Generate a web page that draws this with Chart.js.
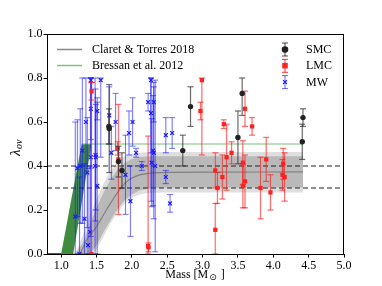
<!DOCTYPE html>
<html>
<head>
<meta charset="utf-8">
<script src="https://cdn.jsdelivr.net/npm/chart.js@4.4.0/dist/chart.umd.min.js"></script>
<style>
  html, body { margin: 0; padding: 0; background: #fff; }
  #wrap { width: 382px; height: 286px; }
</style>
</head>
<body>
<div id="wrap"><canvas id="chart" width="382" height="286"></canvas></div>
<script>
// axis ticks
const xTicks = [1.0, 1.5, 2.0, 2.5, 3.0, 3.5, 4.0, 4.5, 5.0];
const yTicks = [0.0, 0.2, 0.4, 0.6, 0.8, 1.0];

// error bars stay inside the model grid range of lambda_ov
const lamMin = 0.0;
const lamMax = 0.8;

// SMC
const smcMass = [1.675, 1.68, 1.81, 1.86, 2.72, 2.83, 3.50, 3.56, 4.42, 4.41];
const smcLam  = [0.58, 0.57, 0.42, 0.38, 0.47, 0.67, 0.53, 0.73, 0.62, 0.51];
const smcErr  = [0.08, 0.20, 0.07, 0.08, 0.07, 0.09, 0.12, 0.10, 0.04, 0.08];

// LMC
const lmcMass = [1.43, 1.43, 1.80, 1.81, 2.23, 2.235, 2.99, 2.97, 3.18, 3.18, 3.21, 3.28, 3.30, 3.34, 3.41,
                 3.57, 3.57, 3.60, 3.60, 3.70, 3.82, 3.90, 3.96, 4.14, 4.13, 4.16];
const lmcLam  = [0.74, 0.00, 0.48, 0.43, 0.036, 0.03, 0.79, 0.65, 0.38, 0.11, 0.30, 0.35, 0.59, 0.44, 0.46,
                 0.415, 0.31, 0.33, 0.66, 0.58, 0.30, 0.43, 0.28, 0.41, 0.36, 0.35];
const lmcErr  = [0.04, 0.78, 0.03, 0.25, 0.50, 0.02, 0.34, 0.04, 0.08, 0.12, 0.07, 0.10, 0.02, 0.15, 0.05,
                 0.10, 0.10, 0.12, 0.08, 0.04, 0.14, 0.10, 0.08, 0.07, 0.07, 0.11];

// MW
const mwMass = [1.20, 1.23, 1.26, 1.27, 1.30, 1.33, 1.35, 1.37, 1.38, 1.41, 1.42, 1.42, 1.42, 1.48, 1.485,
                1.49, 1.51, 1.51, 1.56, 1.68, 1.71, 1.77, 1.91, 1.96, 1.98, 2.01, 2.06, 2.14, 2.23, 2.27,
                2.27, 2.28, 2.30, 2.31, 2.31, 2.33, 2.48, 2.48, 2.54, 2.57];
const mwLam  = [0.17, 0.39, 0.00, 0.40, 0.47, 0.16, 0.60, 0.37, 0.04, 0.10, 0.79, 0.66, 0.44, 0.40, 0.45,
                0.44, 0.65, 0.31, 0.79, 0.63, 0.46, 0.60, 0.36, 0.55, 0.24, 0.60, 0.46, 0.40, 0.69, 0.79,
                0.64, 0.415, 0.47, 0.69, 0.46, 0.40, 0.35, 0.54, 0.23, 0.55];
const mwErr  = [0.43, 0.22, 0.35, 0.26, 0.33, 0.25, 0.20, 0.25, 0.35, 0.30, 0.40, 0.14, 0.36, 0.40, 0.30,
                0.24, 0.04, 0.40, 0.35, 0.13, 0.12, 0.13, 0.18, 0.10, 0.16, 0.11, 0.02, 0.02, 0.04, 0.55,
                0.18, 0.20, 0.25, 0.09, 0.30, 0.39, 0.03, 0.08, 0.04, 0.07];

// Claret & Torres 2018 relation and its bands
const ctMass = [1.27, 1.36, 1.50, 1.64, 1.79, 1.93, 2.07, 2.26, 2.50, 3.00, 4.42];
const ctLam  = [0.00, 0.064, 0.124, 0.20, 0.276, 0.33, 0.355, 0.367, 0.371, 0.372, 0.373];
const bandMass = [1.2, 1.3, 1.4, 1.5, 1.6, 1.7, 1.8, 1.9, 2.0, 2.1, 2.2, 2.3, 2.5, 3.0, 4.42];
const outerHi  = [0, 0.08, 0.17, 0.25, 0.32, 0.38, 0.42, 0.445, 0.455, 0.46, 0.462, 0.463, 0.464, 0.464, 0.464];
const outerLo  = [0, 0, 0, 0.02, 0.08, 0.14, 0.19, 0.23, 0.255, 0.27, 0.276, 0.278, 0.279, 0.279, 0.279];
const innerHi  = [0, 0.045, 0.13, 0.21, 0.28, 0.34, 0.385, 0.415, 0.432, 0.44, 0.443, 0.444, 0.444, 0.444, 0.444];
const innerLo  = [0, 0, 0, 0.04, 0.10, 0.155, 0.205, 0.245, 0.27, 0.287, 0.296, 0.30, 0.302, 0.302, 0.302];

// Bressan et al. 2012
const brMass = [1.29, 4.42];
const brLam  = [0.5, 0.5];
const brBaseMass = [0.8, 1.0];
const brShapeMass = [1.0, 1.29, 1.43, 1.17];
const brShapeLam  = [0.0, 0.5, 0.5, 0.0];

// reference lines
const refLines = [0.4, 0.3];

const serif = "'Liberation Serif', 'DejaVu Serif', serif";

function pts(xs, ys) {
    return xs.map((x, i) => ({ x: x, y: ys[i] }));
}

function band(xs, hi, lo) {
    let p = pts(xs, hi);
    return p.concat(pts(xs, lo).reverse());
}

function clipArea(chart) {
    let a = chart.chartArea, ctx = chart.ctx;
    ctx.beginPath();
    ctx.rect(a.left, a.top, a.right - a.left, a.bottom - a.top);
    ctx.clip();
}

// error bars, drawn just before the markers of each dataset
const errorBars = {
    id: "errorBars",
    beforeDatasetDraw(chart, args) {
        let ds = chart.data.datasets[args.index];
        if (!ds.errors) return;
        let ctx = chart.ctx, xs = chart.scales.x, ys = chart.scales.y;
        ctx.save();
        clipArea(chart);
        [[ds.errLight, 1.8], [ds.errColor, 0.9]].forEach(([col, lw]) => {
            ctx.strokeStyle = col;
            ctx.lineWidth = lw;
            ds.data.forEach((p, i) => {
                let e = ds.errors[i];
                let px = xs.getPixelForValue(p.x);
                let top = ys.getPixelForValue(Math.min(p.y + e, lamMax));
                let bot = ys.getPixelForValue(Math.max(p.y - e, lamMin));
                ctx.beginPath();
                ctx.moveTo(px, top); ctx.lineTo(px, bot);
                ctx.moveTo(px - 3, top); ctx.lineTo(px + 3, top);
                ctx.moveTo(px - 3, bot); ctx.lineTo(px + 3, bot);
                ctx.stroke();
            });
        });
        ctx.restore();
    },
    // Bressan band, painted over the grey bands
    afterDatasetDraw(chart, args) {
        if (args.index !== 1) return;
        let ctx = chart.ctx, xs = chart.scales.x, ys = chart.scales.y;
        ctx.save();
        clipArea(chart);
        ctx.beginPath();
        brShapeMass.forEach((m, i) => {
            let px = xs.getPixelForValue(m), py = ys.getPixelForValue(brShapeLam[i]);
            if (i === 0) ctx.moveTo(px, py); else ctx.lineTo(px, py);
        });
        ctx.closePath();
        ctx.fillStyle = "#3f8c3f";
        ctx.fill();
        ctx.restore();
    }
};

// frame, legends and axis titles
const decorations = {
    id: "decorations",
    afterDraw(chart) {
        let ctx = chart.ctx, a = chart.chartArea;
        ctx.save();
        ctx.strokeStyle = "#000";
        ctx.lineWidth = 1;
        ctx.strokeRect(a.left + 0.5, a.top + 0.5, a.right - a.left - 1, a.bottom - a.top);

        ctx.font = "12px " + serif;
        ctx.fillStyle = "#000";
        ctx.textBaseline = "middle";

        // left legend
        ctx.lineWidth = 1.5;
        ctx.strokeStyle = "#8a8a8a";
        ctx.beginPath(); ctx.moveTo(57, 49.5); ctx.lineTo(82, 49.5); ctx.stroke();
        ctx.strokeStyle = "#7fc07f";
        ctx.beginPath(); ctx.moveTo(57, 65.5); ctx.lineTo(82, 65.5); ctx.stroke();
        ctx.fillText("Claret & Torres 2018", 92, 50);
        ctx.fillText("Bressan et al. 2012", 92, 66);

        // right legend
        let items = [
            ["SMC", "rgba(40,40,40,0.85)", "circle", "#222"],
            ["LMC", "rgba(255,0,0,0.8)", "rect", "#ff2020"],
            ["MW", "rgba(0,0,255,0.6)", "crossRot", "#1a1aff"]
        ];
        items.forEach((it, k) => {
            let cy = 49.5 + k * 16.3, cx = 285;
            ctx.strokeStyle = it[1];
            ctx.lineWidth = 1;
            ctx.beginPath();
            ctx.moveTo(cx, cy - 6.5); ctx.lineTo(cx, cy + 6.5);
            ctx.moveTo(cx - 3, cy - 6.5); ctx.lineTo(cx + 3, cy - 6.5);
            ctx.moveTo(cx - 3, cy + 6.5); ctx.lineTo(cx + 3, cy + 6.5);
            ctx.stroke();
            ctx.fillStyle = it[3];
            ctx.strokeStyle = it[3];
            ctx.lineWidth = 1.2;
            Chart.helpers.drawPoint(ctx, { pointStyle: it[2], radius: it[2] === "rect" ? 3 : 2.7, borderWidth: 1.2 }, cx, cy);
            ctx.fillStyle = "#000";
            ctx.fillText(it[0], 306, cy + 0.5);
        });

        // x title
        ctx.textAlign = "left";
        let t1 = "Mass [M", t3 = " ]";
        ctx.font = "12px " + serif;
        let w1 = ctx.measureText(t1).width;
        ctx.font = "9px 'DejaVu Sans', sans-serif";
        let w2 = ctx.measureText("\u2299").width;
        ctx.font = "12px " + serif;
        let w3 = ctx.measureText(t3).width;
        let x0 = 195 - (w1 + w2 + 2 + w3) / 2;
        ctx.fillText(t1, x0, 275);
        ctx.font = "9px 'DejaVu Sans', sans-serif";
        ctx.fillText("\u2299", x0 + w1 + 1, 278);
        ctx.font = "12px " + serif;
        ctx.fillText(t3, x0 + w1 + w2 + 2, 275);

        // y title
        ctx.translate(16, 148);
        ctx.rotate(-Math.PI / 2);
        ctx.font = "italic 15px " + serif;
        let wl = ctx.measureText("\u03bb").width;
        ctx.font = "italic 10px " + serif;
        let wo = ctx.measureText("ov").width;
        let sx = -(wl + wo) / 2;
        ctx.font = "italic 15px " + serif;
        ctx.fillText("\u03bb", sx, 0);
        ctx.font = "italic 10px " + serif;
        ctx.fillText("ov", sx + wl + 0.5, 3.5);
        ctx.restore();
    }
};

let datasets = [
    {
        data: band(bandMass, outerHi, outerLo), showLine: true, fill: "shape",
        backgroundColor: "rgba(128,128,128,0.25)", borderWidth: 0, pointRadius: 0, order: 10
    },
    {
        data: band(bandMass, innerHi, innerLo), showLine: true, fill: "shape",
        backgroundColor: "rgba(128,128,128,0.4)", borderWidth: 0, pointRadius: 0, order: 9
    },
    {
        data: pts(ctMass, ctLam), showLine: true, borderColor: "#808080", borderWidth: 1.2,
        cubicInterpolationMode: "monotone", pointRadius: 0, order: 7
    },
    {
        data: pts(brMass, brLam), showLine: true, borderColor: "#7fc07f", borderWidth: 1.2,
        pointRadius: 0, order: 6
    },
    {
        data: pts(brBaseMass, [0, 0]), showLine: true, borderColor: "#2e6b2e", borderWidth: 2,
        pointRadius: 0, order: 6
    }
];

refLines.forEach(v => {
    datasets.push({
        data: pts([0.8, 5.0], [v, v]), showLine: true, borderColor: "#222", borderWidth: 1.2,
        borderDash: [5, 3], pointRadius: 0, order: 5
    });
});

datasets.push({
    label: "MW", data: pts(mwMass, mwLam), errors: mwErr,
    errColor: "rgba(0,0,255,0.55)", errLight: "rgba(120,120,255,0.15)",
    pointStyle: "crossRot", pointRadius: 2.7, borderColor: "#1a1aff", borderWidth: 1.2,
    backgroundColor: "#1a1aff", order: 3
});
datasets.push({
    label: "LMC", data: pts(lmcMass, lmcLam), errors: lmcErr,
    errColor: "rgba(255,0,0,0.6)", errLight: "rgba(255,100,100,0.22)",
    pointStyle: "rect", pointRadius: 3, borderColor: "#ff2020", backgroundColor: "#ff2020",
    borderWidth: 0, order: 2
});
datasets.push({
    label: "SMC", data: pts(smcMass, smcLam), errors: smcErr,
    errColor: "rgba(40,40,40,0.75)", errLight: "rgba(90,90,90,0.18)",
    pointStyle: "circle", pointRadius: 2.7, borderColor: "#222", backgroundColor: "#222",
    borderWidth: 0, order: 1
});

new Chart(document.getElementById("chart"), {
    type: "scatter",
    data: { datasets: datasets },
    options: {
        responsive: false,
        animation: false,
        devicePixelRatio: 1,
        layout: { padding: { top: 34, right: 38, left: 0, bottom: 0 } },
        plugins: { legend: { display: false }, tooltip: { enabled: false } },
        scales: {
            x: {
                type: "linear", min: 0.8, max: 5.0,
                afterBuildTicks: s => { s.ticks = xTicks.map(v => ({ value: v })); },
                afterFit: s => { s.height = 32; },
                ticks: { font: { family: serif, size: 12 }, color: "#000", padding: 1,
                         maxRotation: 0, autoSkip: false, callback: v => v.toFixed(1) },
                grid: { drawOnChartArea: false, drawTicks: true, tickLength: 3.5, color: "#000" },
                border: { color: "#000", width: 1 }
            },
            y: {
                type: "linear", min: 0, max: 1.0,
                afterBuildTicks: s => { s.ticks = yTicks.map(v => ({ value: v })); },
                afterFit: s => { s.width = 47; },
                ticks: { font: { family: serif, size: 12 }, color: "#000", padding: 1,
                         autoSkip: false, callback: v => v.toFixed(1) },
                grid: { drawOnChartArea: false, drawTicks: true, tickLength: 3.5, color: "#000" },
                border: { color: "#000", width: 1 }
            }
        }
    },
    plugins: [errorBars, decorations]
});
</script>
</body>
</html>
